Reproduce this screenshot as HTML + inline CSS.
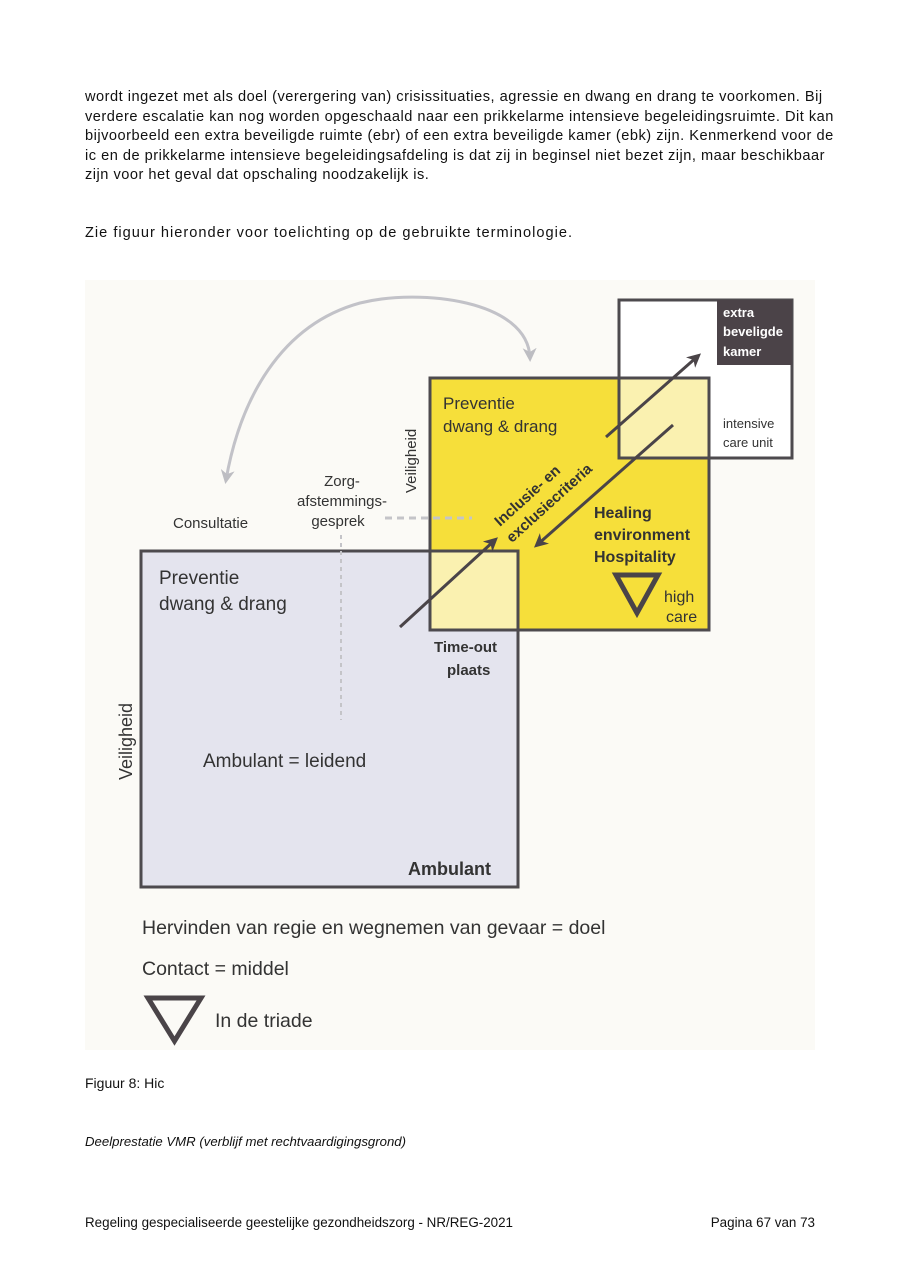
<!DOCTYPE html>
<html><head><meta charset="utf-8"><style>
body{margin:0;width:900px;height:1273px;background:#fff;position:relative;font-family:"Liberation Sans",sans-serif;color:#111;overflow:hidden}
.p{position:absolute;left:85px;font-size:14.6px;line-height:19.6px;white-space:nowrap;letter-spacing:0.5px}
</style></head><body>
<div class="p" style="top:88px">wordt ingezet met als doel (verergering van) crisissituaties, agressie en dwang en drang te voorkomen. Bij<br>verdere escalatie kan nog worden opgeschaald naar een prikkelarme intensieve begeleidingsruimte. Dit kan<br>bijvoorbeeld een extra beveiligde ruimte (ebr) of een extra beveiligde kamer (ebk) zijn. Kenmerkend voor de<br>ic en de prikkelarme intensieve begeleidingsafdeling is dat zij in beginsel niet bezet zijn, maar beschikbaar<br>zijn voor het geval dat opschaling noodzakelijk is.</div>
<div class="p" style="top:224px;letter-spacing:1px">Zie figuur hieronder voor toelichting op de gebruikte terminologie.</div>
<svg style="position:absolute;left:0;top:0" width="900" height="1273" font-family="Liberation Sans, sans-serif">
<defs>
<marker id="ah2" markerWidth="16" markerHeight="14" refX="10" refY="7" orient="auto" markerUnits="userSpaceOnUse"><path d="M0,0 L14,7 L0,14 L4,7 z" fill="#4a4448"/></marker>
<marker id="ag" markerWidth="16" markerHeight="14" refX="10" refY="7" orient="auto-start-reverse" markerUnits="userSpaceOnUse"><path d="M0,0 L14,7 L0,14 L4,7 z" fill="#bdbdc2"/></marker>
</defs>
<rect x="85" y="280" width="730" height="770" fill="#fbfaf6"/>
<path d="M530,358 C528,300 420,288 360,303 C280,325 240,400 226,480" fill="none" stroke="#c2c2c8" stroke-width="3" marker-start="url(#ag)" marker-end="url(#ag)"/>
<rect x="141" y="551" width="377" height="336" fill="#e4e4ee" stroke="#4d4a4e" stroke-width="3"/>
<rect x="619" y="300" width="173" height="158" fill="#fff" stroke="#4d4a4e" stroke-width="3"/>
<rect x="717" y="300" width="75" height="65" fill="#4b4348"/>
<rect x="430" y="378" width="279" height="252" fill="#f6df3a" stroke="#4d4a4e" stroke-width="3"/>
<rect x="619" y="378" width="90" height="80" fill="#faf1b0" stroke="#4d4a4e" stroke-width="3"/>
<rect x="430" y="551" width="88" height="79" fill="#faf1b0" stroke="#4d4a4e" stroke-width="3"/>
<line x1="385" y1="518" x2="472" y2="518" stroke="#c4c4c8" stroke-width="3" stroke-dasharray="7,5"/>
<line x1="341" y1="535" x2="341" y2="720" stroke="#c4c4c8" stroke-width="2" stroke-dasharray="4,4"/>
<line x1="400" y1="627" x2="495" y2="540" stroke="#4a4448" stroke-width="3" marker-end="url(#ah2)"/>
<line x1="606" y1="437" x2="698" y2="356" stroke="#4a4448" stroke-width="3" marker-end="url(#ah2)"/>
<line x1="673" y1="425" x2="537" y2="545" stroke="#4a4448" stroke-width="3" marker-end="url(#ah2)"/>
<path d="M616,575 L658,575 L637,613 z" fill="none" stroke="#4a4448" stroke-width="5"/>
<path d="M148,998 L201,998 L174.5,1041 z" fill="none" stroke="#4a4448" stroke-width="5"/>
<g fill="#333" font-size="17">
<text x="443" y="409">Preventie</text><text x="443" y="432">dwang &amp; drang</text>
<text x="159" y="584" font-size="19">Preventie</text><text x="159" y="610" font-size="19">dwang &amp; drang</text>
<text x="203" y="767" font-size="19">Ambulant = leidend</text>
<text x="408" y="875" font-size="18" font-weight="bold">Ambulant</text>
<text x="173" y="528" font-size="15">Consultatie</text>
<text x="342" y="486" font-size="15" text-anchor="middle">Zorg-</text>
<text x="342" y="506" font-size="15" text-anchor="middle">afstemmings-</text>
<text x="338" y="526" font-size="15" text-anchor="middle">gesprek</text>
<text transform="translate(416,493) rotate(-90)" font-size="15">Veiligheid</text>
<text transform="translate(132,780) rotate(-90)" font-size="18">Veiligheid</text>
<text x="723" y="317" font-size="13" font-weight="bold" fill="#fff">extra</text>
<text x="723" y="336" font-size="13" font-weight="bold" fill="#fff">beveligde</text>
<text x="723" y="356" font-size="13" font-weight="bold" fill="#fff">kamer</text>
<text x="723" y="428" font-size="13">intensive</text>
<text x="723" y="447" font-size="13">care unit</text>
<text x="594" y="518" font-size="16" font-weight="bold">Healing</text>
<text x="594" y="540" font-size="16" font-weight="bold">environment</text>
<text x="594" y="562" font-size="16" font-weight="bold">Hospitality</text>
<text x="664" y="602" font-size="16">high</text>
<text x="666" y="622" font-size="16">care</text>
<text x="434" y="652" font-size="15" font-weight="bold">Time-out</text>
<text x="447" y="675" font-size="15" font-weight="bold">plaats</text>
<g transform="translate(500,527) rotate(-42)" font-size="15" font-weight="bold"><text x="0" y="0">Inclusie- en</text><text x="-2" y="20">exclusiecriteria</text></g>
<text x="142" y="934" font-size="19.5">Hervinden van regie en wegnemen van gevaar = doel</text>
<text x="142" y="975" font-size="19.5">Contact = middel</text>
<text x="215" y="1027" font-size="19.5">In de triade</text>
</g>
<g fill="#111">
<text x="85" y="1088" font-size="14">Figuur 8: Hic</text>
<text x="85" y="1146" font-style="italic" font-size="13.2">Deelprestatie VMR (verblijf met rechtvaardigingsgrond)</text>
<text x="85" y="1227" font-size="13.4">Regeling gespecialiseerde geestelijke gezondheidszorg - NR/REG-2021</text>
<text x="815" y="1227" font-size="13.4" text-anchor="end">Pagina 67 van 73</text>
</g>
</svg>
</body></html>
